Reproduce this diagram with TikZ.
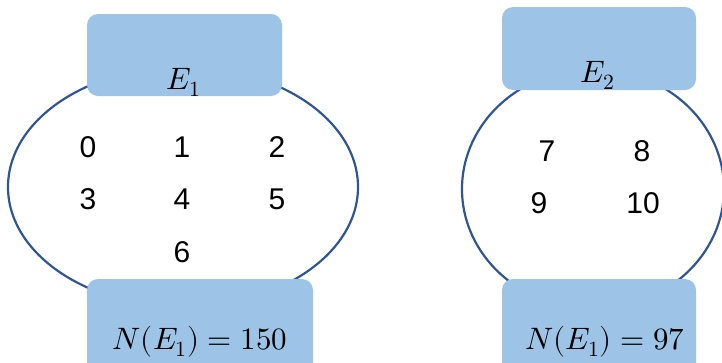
\documentclass[tikz,border=0pt]{standalone}
\usepackage{fontspec}
\usepackage{unicode-math}
\setmainfont{Liberation Sans}
\setmathfont{Latin Modern Math}
\usetikzlibrary{shapes.geometric,positioning}
\definecolor{evFill}{HTML}{9DC3E6}
\definecolor{evLine}{HTML}{2F5597}
\tikzset{
  ring/.style    ={ellipse,draw=evLine,line width=2.2pt,inner sep=0pt},
  tagbox/.style  ={fill=evFill,rounded corners=11pt,inner sep=0pt},
  elem/.style    ={font=\fontsize{30}{30}\selectfont,inner sep=0pt,anchor=base},
  mlbl/.style    ={font=\fontsize{31}{31}\selectfont,inner sep=0pt,anchor=base},
}

\begin{document}
\begin{tikzpicture}[x=1pt,y=-1pt]
\useasboundingbox (0,0) rectangle (722,362);
\clip (0,0) rectangle (722,362);
% the two sets
\node[ring,minimum width=350pt,minimum height=240pt] (setA) at (183,187) {};
\node[ring,minimum width=262pt,minimum height=240pt] (setB) at (593,189) {};
% label boxes
\node[tagbox,minimum width=195pt,minimum height=82pt] (topA) at (184.5,55) {};
\node[tagbox,minimum width=226pt,minimum height=96pt] (botA) at (200,327) {};
\node[tagbox,minimum width=194pt,minimum height=83pt] (topB) at (599,48.5) {};
\node[tagbox,minimum width=194pt,minimum height=96pt] (botB) at (599,327) {};
\node[mlbl] (nameA) at (184,89) {$E_1$};
\node[mlbl] (nameB) at (598,82) {$E_2$};
\node[mlbl] (cntA) at (200,349) {$N(E_1) = 150$};
\node[mlbl] (cntB) at (605,349) {$N(E_1) = 97$};
% elements
\foreach \d/\x/\y in {0/88/157, 1/182/157, 2/277/157, 3/88/209, 4/182/209,
                      5/277/209, 6/182/262, 7/547/161, 8/642/161, 9/539/213,
                      10/643/213}
  \node[elem] (e\d) at (\x,\y) {\d};
\end{tikzpicture}
\end{document}
